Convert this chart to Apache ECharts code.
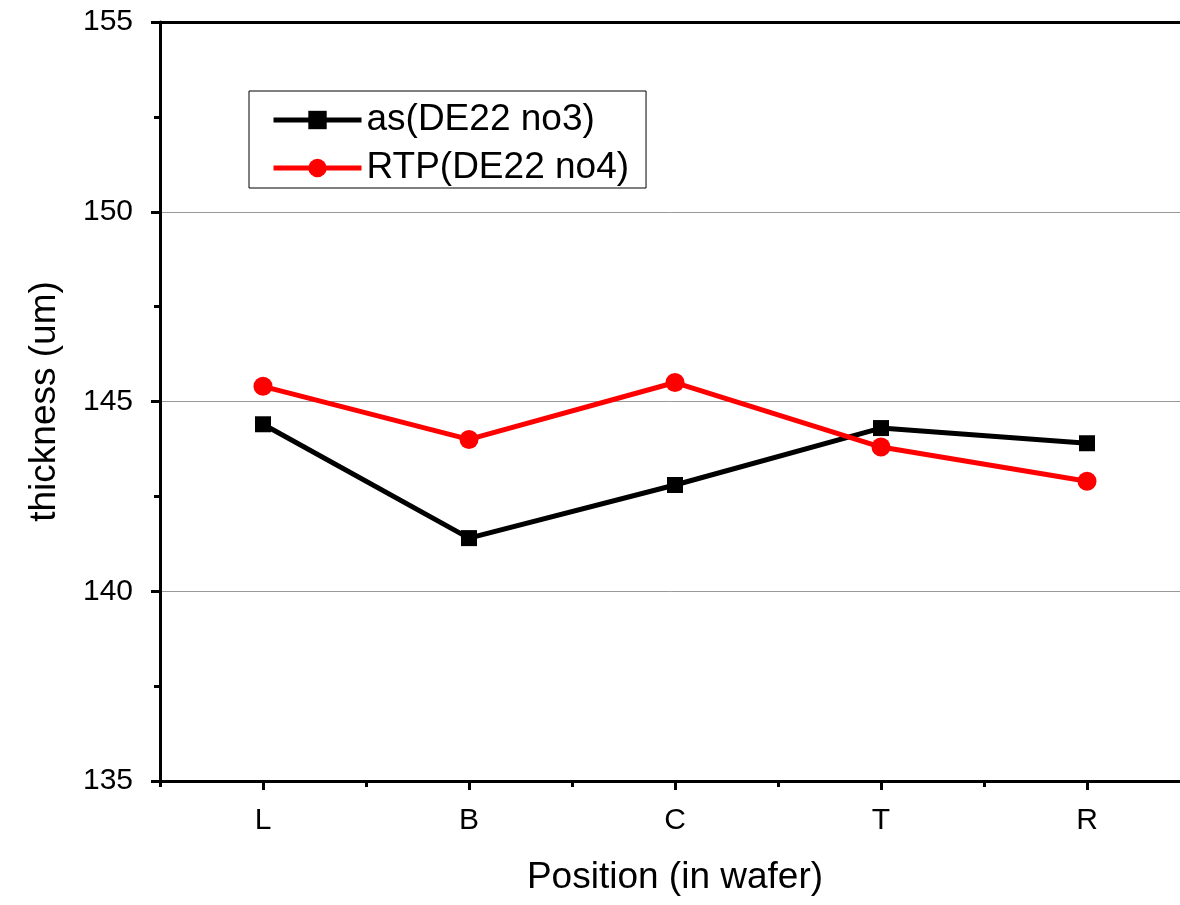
<!DOCTYPE html>
<html><head><meta charset="utf-8">
<script src="https://cdn.jsdelivr.net/npm/echarts@6/dist/echarts.min.js"></script>
<style>html,body{margin:0;padding:0;background:#fff}#c{width:1180px;height:905px}</style>
</head><body><div id="c"></div>
<script>
const categories = ['L', 'B', 'C', 'T', 'R'];
const asValues = [144.4, 141.4, 142.8, 144.3, 143.9];
const rtpValues = [145.4, 144.0, 145.5, 143.8, 142.9];
const seriesNames = ['as(DE22 no3)', 'RTP(DE22 no4)'];
const yTicks = { min: 135, max: 155, interval: 5 };

const font = 'Liberation Sans, Arial, sans-serif';
const chart = echarts.init(document.getElementById('c'), null, { renderer: 'canvas' });
chart.setOption({
  animation: false,
  backgroundColor: '#fff',
  grid: { left: 160, top: 22, width: 1030, bottom: 124, containLabel: false, outerBoundsMode: 'none' },
  legend: {
    orient: 'vertical', left: 249, top: 91,
    padding: [9, 17, 0, 22],
    borderColor: '#000', borderWidth: 1,
    itemWidth: 88, itemHeight: 23, itemGap: 8,
    lineStyle: { width: 5 },
    textStyle: { fontFamily: font, fontSize: 37, color: '#000', lineHeight: 40 },
    data: seriesNames
  },
  xAxis: [
    {
      type: 'category', data: categories, boundaryGap: true, position: 'bottom',
      axisLine: { show: true, lineStyle: { color: '#000', width: 3 } },
      axisTick: { show: true, alignWithLabel: true, length: 9, lineStyle: { color: '#000', width: 3 } },
      axisLabel: { fontFamily: font, fontSize: 30, color: '#000', margin: 25 },
      splitLine: { show: false },
      name: 'Position (in wafer)', nameLocation: 'middle', nameGap: 78,
      nameTextStyle: { fontFamily: font, fontSize: 37, color: '#000' }
    },
    {
      type: 'category', data: categories, boundaryGap: true, position: 'bottom',
      axisLine: { show: false },
      axisTick: { show: true, alignWithLabel: false, length: 6, lineStyle: { color: '#000', width: 3 } },
      axisLabel: { show: false }, splitLine: { show: false }
    },
    {
      type: 'category', data: categories, boundaryGap: true, position: 'top',
      axisLine: { show: true, lineStyle: { color: '#000', width: 3 } },
      axisTick: { show: false }, axisLabel: { show: false }, splitLine: { show: false }
    }
  ],
  yAxis: {
    type: 'value', min: yTicks.min, max: yTicks.max, interval: yTicks.interval,
    axisLine: { show: true, lineStyle: { color: '#000', width: 3 } },
    axisTick: { show: true, inside: false, length: 9, lineStyle: { color: '#000', width: 3 } },
    minorTick: { show: true, splitNumber: 2, length: 6, lineStyle: { color: '#000', width: 3 } },
    axisLabel: { fontFamily: font, fontSize: 30, color: '#000', margin: 27 },
    splitLine: { show: true, lineStyle: { color: '#999', width: 1 } },
    name: 'thickness (um)', nameLocation: 'middle', nameGap: 97,
    nameTextStyle: { fontFamily: font, fontSize: 37, color: '#000' }
  },
  series: [
    {
      name: seriesNames[0], type: 'line', data: asValues, xAxisIndex: 0,
      symbol: 'rect', symbolSize: 16,
      lineStyle: { color: '#000', width: 5 }, itemStyle: { color: '#000' }, z: 3
    },
    {
      name: seriesNames[1], type: 'line', data: rtpValues, xAxisIndex: 0,
      symbol: 'circle', symbolSize: 19,
      lineStyle: { color: '#ff0000', width: 5 }, itemStyle: { color: '#ff0000' }, z: 4
    }
  ]
});
</script></body></html>
